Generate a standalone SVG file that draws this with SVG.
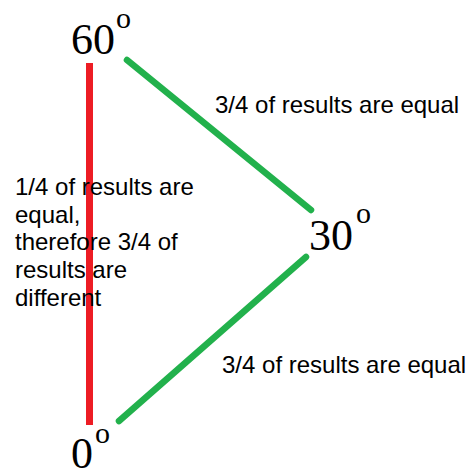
<svg xmlns="http://www.w3.org/2000/svg" width="471" height="468" viewBox="0 0 471 468">
<style>
.num{font-family:"Liberation Serif","Times New Roman",serif;font-size:44px;fill:#000}
.deg{font-family:"Liberation Serif","Times New Roman",serif;font-size:30px;fill:#000}
.lbl{font-family:"Liberation Sans",Arial,sans-serif;font-size:24px;fill:#000}
.g{stroke:#22b14c;stroke-width:6.5;stroke-linecap:round;fill:none}
.r{stroke:#ed1c24;stroke-width:7;fill:none}
</style>
<rect width="471" height="468" fill="#fff"/>
<g id="connectors">
<line class="r" x1="89.5" y1="63" x2="89.5" y2="425"/>
<line class="g" x1="127" y1="60" x2="311" y2="210"/>
<line class="g" x1="306" y1="257" x2="119" y2="421"/>
</g>
<g id="node60"><text class="num" x="71" y="54">60</text><text class="deg" x="116" y="28">o</text></g>
<g id="node30"><text class="num" x="309" y="250">30</text><text class="deg" x="356" y="223">o</text></g>
<g id="node0"><text class="num" x="71" y="468">0</text><text class="deg" x="95" y="443">o</text></g>
<g id="label-top"><text class="lbl" x="215" y="113">3/4 of results are equal</text></g>
<g id="label-bottom"><text class="lbl" x="222" y="373">3/4 of results are equal</text></g>
<g id="label-left">
<text class="lbl" x="15" y="195">1/4 of results are</text>
<text class="lbl" x="15" y="223">equal,</text>
<text class="lbl" x="15" y="250">therefore 3/4 of</text>
<text class="lbl" x="15" y="278">results are</text>
<text class="lbl" x="15" y="306">different</text>
</g>
</svg>
